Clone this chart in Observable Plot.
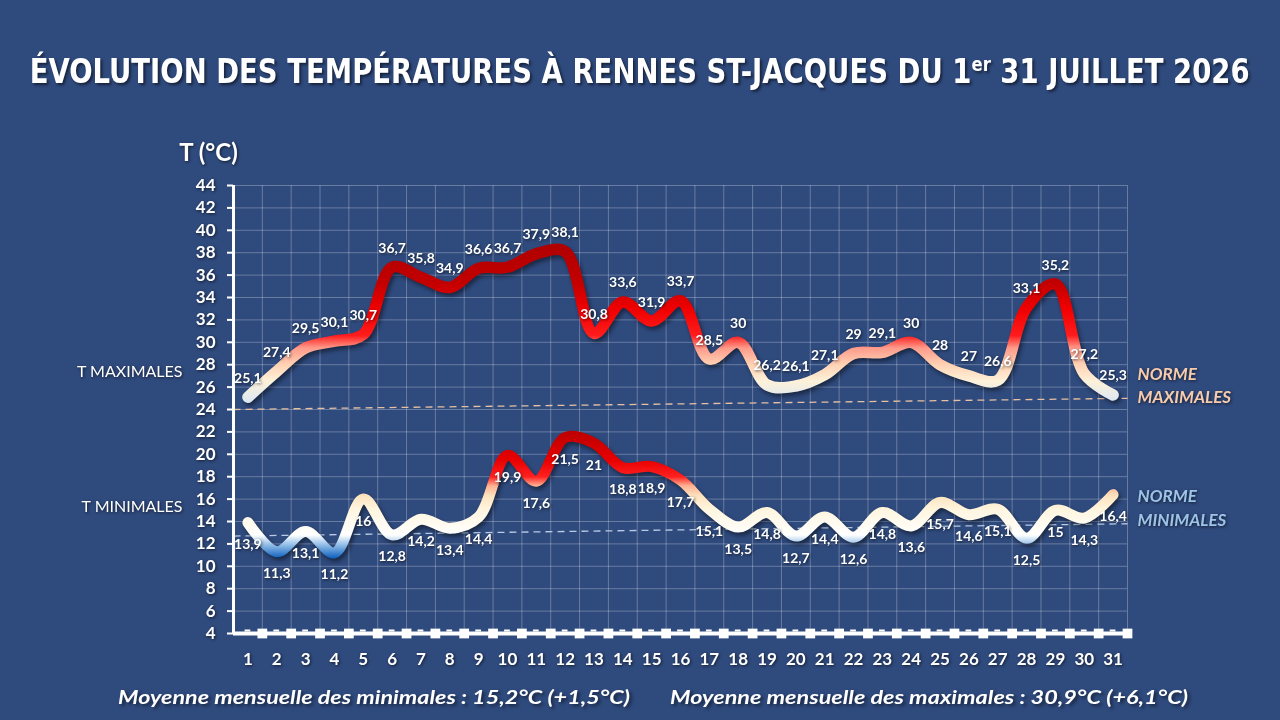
<!DOCTYPE html>
<html>
<head>
<meta charset="utf-8">
<script src="https://cdn.jsdelivr.net/npm/d3@7"></script>
<script src="https://cdn.jsdelivr.net/npm/@observablehq/plot@0.6"></script>
<style>
  body { margin: 0; width: 1280px; height: 720px; overflow: hidden; background: #2f4a7d; color: #fff; font-family: Lato, "Noto Sans", sans-serif; position: relative; }
  #titre { height: 130px; position: relative; }
  #titre span { position: absolute; top: 50px; white-space: nowrap; font-family: "Liberation Sans Narrow", "DejaVu Sans Condensed", "Liberation Sans", sans-serif; font-weight: bold; font-size: 33px; line-height: 44px; text-shadow: 2px 2px 3px rgba(0,0,0,0.55); transform-origin: center; }
  #titre sup { font-size: 0.6em; line-height: 0; }
  #pied { height: 45px; position: relative; }
  #pied span { position: absolute; top: 10px; white-space: nowrap; font-weight: bold; font-style: italic; font-size: 19px; line-height: 24px; text-shadow: 2px 2px 3px rgba(0,0,0,0.5); transform-origin: left center; }
</style>
</head>
<body>
<div id="titre"><span>ÉVOLUTION DES TEMPÉRATURES À RENNES ST-JACQUES DU 1<sup>er</sup> 31 JUILLET 2026</span></div>
<div id="chart"></div>
<div id="pied"><span id="moyMin">Moyenne mensuelle des minimales : 15,2°C (+1,5°C)</span><span id="moyMax">Moyenne mensuelle des maximales : 30,9°C (+6,1°C)</span></div>
<script>
// jours du mois
const jours = [1,2,3,4,5,6,7,8,9,10,11,12,13,14,15,16,17,18,19,20,21,22,23,24,25,26,27,28,29,30,31]
// températures maximales et minimales relevées
const tMax = [25.1,27.4,29.5,30.1,30.7,36.7,35.8,34.9,36.6,36.7,37.9,38.1,30.8,33.6,31.9,33.7,28.5,30,26.2,26.1,27.1,29,29.1,30,28,27,26.6,33.1,35.2,27.2,25.3]
const tMin = [13.9,11.3,13.1,11.2,16,12.8,14.2,13.4,14.4,19.9,17.6,21.5,21,18.8,18.9,17.7,15.1,13.5,14.8,12.7,14.4,12.6,14.8,13.6,15.7,14.6,15.1,12.5,15,14.3,16.4]
// normales (début et fin du mois)
const normeMax = [24.0, 25.0]
const normeMin = [12.7, 13.8]
const yTicks = [4,6,8,10,12,14,16,18,20,22,24,26,28,30,32,34,36,38,40,42,44]

const rows = jours.map((j, i) => ({jour: j, max: tMax[i], min: tMin[i]}))
const limites = jours.map(j => j + 0.5)
const fmt = v => String(v).replace(".", ",")
const blanc = "#ffffff"

let chart = Plot.plot({
  width: 1280,
  height: 545,
  marginLeft: 233,
  marginRight: 153,
  marginTop: 55,
  marginBottom: 42,
  style: {background: "transparent", color: blanc, fontFamily: "Lato, 'Noto Sans', sans-serif", overflow: "visible"},
  x: {domain: [0.5, 31.5]},
  y: {domain: [4, 44]},
  marks: [
    Plot.gridY(yTicks, {stroke: blanc, strokeOpacity: 0.28}),
    Plot.gridX(limites, {stroke: blanc, strokeOpacity: 0.28}),
    // normales
    Plot.link([normeMax], {x1: () => 0.5, x2: () => 31.5, y1: d => d[0], y2: d => d[1], stroke: "#e8c0a4", strokeWidth: 1.3, strokeDasharray: "7 5"}),
    Plot.link([normeMin], {x1: () => 0.5, x2: () => 31.5, y1: d => d[0], y2: d => d[1], stroke: "#b9cbe6", strokeWidth: 1.3, strokeDasharray: "7 5"}),
    // axes
    Plot.axisY(yTicks, {tickSize: 6, tickPadding: 12, fontSize: 17, fontWeight: "bold", label: null, stroke: blanc, strokeWidth: 2}),
    Plot.axisX(jours, {tickSize: 0, tickPadding: 19, fontSize: 17, fontWeight: "bold", label: null}),
    Plot.ruleX([0.5], {y1: 4, y2: 44, stroke: blanc, strokeWidth: 3}),
    Plot.ruleY([4], {x1: 0.5, x2: 31.5, stroke: blanc, strokeWidth: 4}),
    Plot.ruleY(rows, {y: () => 4, x1: d => d.jour - 0.1, x2: d => d.jour + 0.1, dy: -3, stroke: blanc, strokeWidth: 2}),
    Plot.dot(limites, {x: d => d, y: () => 4, symbol: "square", r: 5.5, fill: blanc}),
    // courbes
    Plot.line(rows, {x: "jour", y: "max", curve: "catmull-rom", stroke: "url(#gradMax)", strokeWidth: 11.5, strokeLinecap: "round"}),
    Plot.line(rows, {x: "jour", y: "min", curve: "catmull-rom", stroke: "url(#gradMin)", strokeWidth: 11, strokeLinecap: "round"}),
    // étiquettes de données
    Plot.text(rows, {x: "jour", y: "max", text: d => fmt(d.max), dy: -19, fill: blanc, fontSize: 14, fontWeight: "bold"}),
    Plot.text(rows, {x: "jour", y: "min", text: d => fmt(d.min), dy: 22, fill: blanc, fontSize: 14, fontWeight: "bold"}),
    // libellés
    Plot.text(["T (°C)"], {frameAnchor: "top-left", dx: -25, dy: -42, fill: blanc, fontSize: 24, fontWeight: "bold", textAnchor: "middle"}),
    Plot.text(["T MAXIMALES"], {frameAnchor: "left", y: () => 27.4, dx: -51, textAnchor: "end", fill: blanc, fontSize: 16}),
    Plot.text(["T MINIMALES"], {frameAnchor: "left", y: () => 15.3, dx: -51, textAnchor: "end", fill: blanc, fontSize: 16}),
    Plot.text([normeMax], {x: () => 31.5, y: d => d[1], text: () => "NORME\nMAXIMALES", textAnchor: "start", lineAnchor: "bottom", dx: 10, dy: 5, lineHeight: 1.4, fill: "#f8cbad", fontSize: 17, fontWeight: "bold", fontStyle: "italic"}),
    Plot.text([normeMin], {x: () => 31.5, y: d => d[1], text: () => "NORME\nMINIMALES", textAnchor: "start", lineAnchor: "bottom", dx: 10, dy: 2, lineHeight: 1.4, fill: "#9dc3e6", fontSize: 17, fontWeight: "bold", fontStyle: "italic"})
  ]
})

// dégradés de couleur selon la température
const y = chart.scale("y")
const defs = d3.select(chart).insert("defs", ":first-child")
function degrade(id, stops) {
  const v0 = stops[0][0], v1 = stops[stops.length - 1][0]
  const g = defs.append("linearGradient").attr("id", id).attr("gradientUnits", "userSpaceOnUse")
    .attr("x1", 0).attr("x2", 0).attr("y1", y.apply(v0)).attr("y2", y.apply(v1))
  stops.forEach(([v, c]) => g.append("stop").attr("offset", (v - v0) / (v1 - v0)).attr("stop-color", c))
}
degrade("gradMax", [[24.8, "#dde8f2"], [26.5, "#fdf2da"], [28, "#ffd2b4"], [29.5, "#ff9a8a"], [30.6, "#ff1c1c"], [33, "#f00000"], [35.2, "#c40000"], [38.6, "#b00000"]])
degrade("gradMin", [[10.8, "#1565c0"], [12, "#9cc4ea"], [12.8, "#ffffff"], [15, "#fff6e0"], [16.3, "#fde3bf"], [17.2, "#ffb090"], [18, "#ff2020"], [19.5, "#e80000"], [21.8, "#c00000"]])

d3.select(chart).selectAll('g[aria-label="line"]').style("filter", "drop-shadow(2px 3px 2px rgba(0,0,0,0.45))")
d3.select(chart).selectAll('g[aria-label="text"], g[aria-label="y-axis tick label"], g[aria-label="x-axis tick label"]').style("filter", "drop-shadow(1.5px 1.5px 1.5px rgba(0,0,0,0.6))")

d3.select('#chart').append(() => chart)

// ajuste la largeur des textes à celle de l'original
function ajuste(el, gauche, largeur) {
  const w = el.getBoundingClientRect().width
  if (gauche === null) {
    el.style.left = (640 - w / 2) + "px"
  } else {
    el.style.left = gauche + "px"
  }
  el.style.transform = `scaleX(${largeur / w})`
}
ajuste(document.querySelector('#titre span'), null, 1220)
ajuste(document.querySelector('#moyMin'), 118, 512)
ajuste(document.querySelector('#moyMax'), 670, 518)
</script>
</body>
</html>
